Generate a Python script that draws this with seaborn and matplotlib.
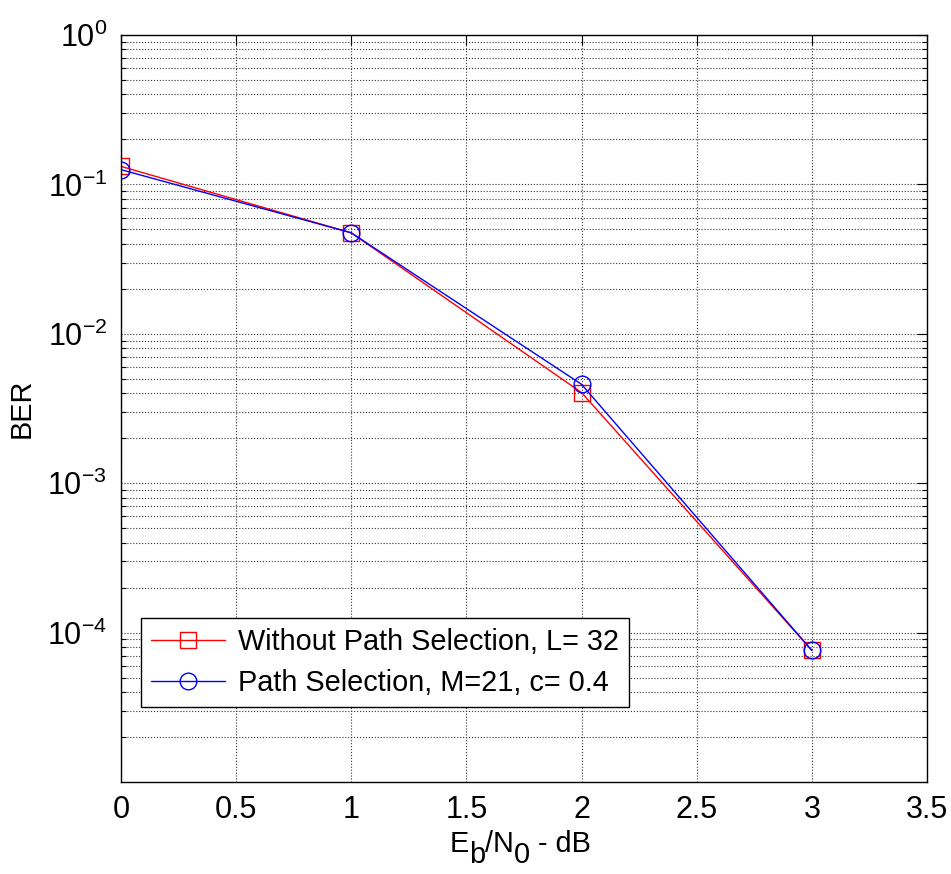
import matplotlib
matplotlib.use("Agg")
import matplotlib.pyplot as plt
import matplotlib.ticker as mticker
import seaborn as sns
import numpy as np

ebn0 = [0, 1, 2, 3]
ber_no_sel = [0.132, 0.0474, 0.00404, 7.6e-5]
ber_sel = [0.1255, 0.0474, 0.00459, 7.6e-5]
label_no_sel = "Without Path Selection, L= 32"
label_sel = "Path Selection, M=21, c= 0.4"
x_ticks = [0, 0.5, 1, 1.5, 2, 2.5, 3, 3.5]
y_ticks = [1e-4, 1e-3, 1e-2, 1e-1, 1e0]
xlabel_parts = [("E", 0), ("b", -1), ("/N", 0), ("0", -1), (" - dB", 0)]

sns.set_style("white")
plt.rcParams['font.family'] = ['Liberation Sans', 'DejaVu Sans']
plt.rcParams['mathtext.fontset'] = 'custom'
plt.rcParams['mathtext.rm'] = 'Liberation Sans'
plt.rcParams['mathtext.it'] = 'Liberation Sans'
plt.rcParams['text.color'] = 'black'
plt.rcParams['axes.labelcolor'] = 'black'
FS = 20.8
TFS = 22

fig = plt.figure(figsize=(9.51, 8.74), dpi=100)
ax = fig.add_axes([121/951, 1-782/874, (927-121)/951, (782-35)/874])

sns.lineplot(x=ebn0, y=ber_no_sel, ax=ax, color='red', marker='s', markersize=12,
             markerfacecolor='none', markeredgecolor='red', markeredgewidth=1.0,
             linewidth=1.0, label=label_no_sel)
sns.lineplot(x=ebn0, y=ber_sel, ax=ax, color='blue', marker='o', markersize=12,
             markerfacecolor='none', markeredgecolor='blue', markeredgewidth=1.0,
             linewidth=1.0, label=label_sel)

ax.set_yscale('log')
ax.set_xlim(0, 3.5)
ax.set_ylim(1e-5, 1e0)
ax.set_xticks(x_ticks)
ax.set_xticklabels([f"{t:g}" for t in x_ticks])
ax.set_yticks(y_ticks)
ax.set_yticklabels([r'$\mathregular{10^{%d}}$' % int(np.log10(t)) for t in y_ticks])
ax.yaxis.set_minor_locator(mticker.LogLocator(base=10, subs=np.arange(2, 10), numticks=20))
ax.yaxis.set_minor_formatter(mticker.NullFormatter())

ax.grid(True, which='major', axis='both', linestyle=':', color='0.2', linewidth=0.8)
ax.grid(True, which='minor', axis='y', linestyle=':', color='0.2', linewidth=0.8)
ax.set_axisbelow(True)

ax.tick_params(axis='both', which='major', direction='in', length=7, width=0.8,
               labelsize=TFS, top=True, right=True, colors='black')
ax.tick_params(axis='x', which='major', pad=9)
ax.tick_params(axis='y', which='major', pad=10)
ax.tick_params(axis='y', which='minor', direction='in', length=3.6, width=0.8,
               left=True, right=True, colors='black')
for s in ax.spines.values():
    s.set_color('black')
    s.set_linewidth(1.0)

ax.set_ylabel('BER', fontsize=FS, labelpad=8, color='black')

# x label with full-size lowered subscripts
sub_drop = 11 * 0.72  # points
prev = None
texts = []
for txt, lvl in xlabel_parts:
    if prev is None:
        t = fig.text(0.5, 1 - 858/874, txt, fontsize=FS, ha='left', va='bottom', color='black')
    else:
        dy = (lvl - prev_lvl) * sub_drop
        t = ax.annotate(txt, xy=(1, 0), xycoords=prev, xytext=(0, dy),
                        textcoords='offset points', fontsize=FS, ha='left',
                        va='bottom', color='black', annotation_clip=False)
    prev = t
    prev_lvl = lvl
    texts.append(t)

fig.canvas.draw()
r = fig.canvas.get_renderer()
x0 = min(t.get_window_extent(r).x0 for t in texts)
x1 = max(t.get_window_extent(r).x1 for t in texts)
center_target = 520
shift = center_target - (x0 + x1) / 2
first = texts[0]
px, py = first.get_position()
first.set_position((px + shift / fig.bbox.width, py))

leg = ax.legend(loc='lower left', bbox_to_anchor=(0.025, 0.1), fontsize=FS,
                frameon=True, fancybox=False, edgecolor='black', framealpha=1,
                handlelength=2.55, borderpad=0.35, labelspacing=0.45, handletextpad=0.45,
                borderaxespad=0)
leg.get_frame().set_linewidth(1.0)
for t in leg.get_texts():
    t.set_color('black')

fig.savefig('out.png', dpi=100)
